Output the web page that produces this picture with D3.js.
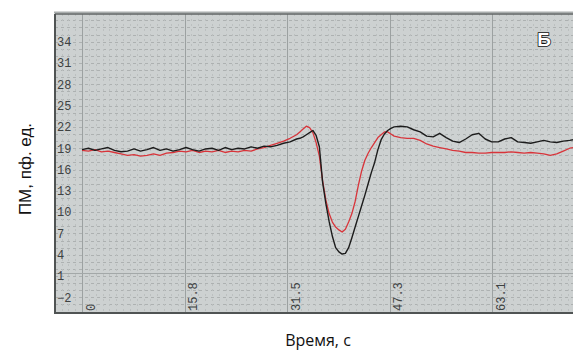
<!DOCTYPE html>
<html>
<head>
<meta charset="utf-8">
<script src="https://cdn.jsdelivr.net/npm/d3@7/dist/d3.min.js"></script>
<style>
  html, body { margin: 0; padding: 0; background: #fff; }
  svg { display: block; }
</style>
</head>
<body>
<svg id="chart" width="573" height="351"></svg>
<script>
// time, s
const times = [
  0, 1, 2, 3, 4, 5, 6, 7, 8, 9, 10, 11, 12, 13, 14, 15, 16, 17, 18, 19, 20,
  21, 22, 23, 24, 25, 26, 27, 28, 29, 30, 31, 32, 33,
  33.5, 34, 34.5, 35, 35.5, 36, 36.5, 37, 37.5, 38, 38.5, 39, 39.5, 40, 40.5,
  41, 41.5, 42, 42.5, 43, 43.5, 44, 44.5, 45, 45.5, 46, 46.5, 47, 47.5, 48,
  49, 50, 51, 52, 53, 54, 55, 56, 57, 58, 59, 60, 61, 62, 63, 64, 65, 66, 67,
  68, 69, 70, 71, 72, 73, 74, 75, 75.5
]

// black trace
const blackValues = [
  18.8, 19.0, 18.7, 18.9, 19.1, 18.7, 18.5, 18.6, 18.9, 18.6, 18.8, 19.1, 18.7, 18.9, 18.6, 18.8, 19.1, 18.8, 18.6, 18.9, 19.0,
  18.7, 19.1, 18.8, 19.0, 18.9, 19.2, 19.0, 19.3, 19.2, 19.4, 19.7, 19.9, 20.3,
  20.4, 20.6, 20.9, 21.2, 21.5, 20.8, 19.2, 14.2, 11.2, 8.7, 6.6, 5.0, 4.4, 4.1, 4.2,
  5.0, 6.4, 7.9, 9.4, 10.9, 12.4, 14.0, 15.6, 17.0, 18.8, 20.2, 21.0, 21.5, 21.8, 22.0,
  22.1, 22.0, 21.6, 21.3, 20.7, 20.6, 21.1, 20.5, 20.0, 19.8, 20.3, 20.9, 21.1, 20.3, 19.9, 19.9, 20.3, 20.5, 19.9,
  19.8, 19.7, 19.9, 20.1, 19.9, 19.8, 20.0, 20.1, 20.2
]

// red trace
const redValues = [
  18.7, 18.6, 18.8, 18.5, 18.6, 18.4, 18.2, 18.0, 18.1, 17.9, 18.0, 18.2, 18.0, 18.3, 18.4, 18.6, 18.5, 18.7, 18.4, 18.6, 18.5,
  18.7, 18.4, 18.6, 18.5, 18.7, 18.6, 18.9, 19.1, 19.4, 19.7, 20.0, 20.4, 20.9,
  21.3, 21.7, 22.1, 21.9, 21.2, 19.8, 17.9, 14.4, 11.7, 9.8, 8.6, 7.9, 7.5, 7.2, 7.6,
  8.6, 9.8, 11.5, 13.8, 15.8, 17.3, 18.3, 19.1, 19.8, 20.5, 20.9, 21.3, 21.3, 21.0, 20.7,
  20.5, 20.4, 20.4, 20.1, 19.6, 19.3, 19.1, 18.9, 18.7, 18.6, 18.4, 18.4, 18.3, 18.3, 18.4, 18.4, 18.4, 18.5, 18.4,
  18.3, 18.4, 18.3, 18.2, 18.0, 18.2, 18.6, 19.0, 19.1
]

const yTicks = [34, 31, 28, 25, 22, 19, 16, 13, 10, 7, 4, 1, -2]
const xTicks = [0, 15.8, 31.5, 47.3, 63.1]
const xTickLabels = ['0', '15.8', '31.5', '47.3', '63.1']
const hLevels = [1.5]

const plot = { left: 55, top: 14, right: 573, bottom: 313 }

const svg = d3.select('#chart')

const x = d3.scaleLinear().domain([-4.15, 75.5]).range([plot.left, plot.right])
const y = d3.scaleLinear().domain([-4.2, 37.9]).range([plot.bottom, plot.top])

// plot background
svg.append('rect')
  .attr('x', plot.left).attr('y', plot.top)
  .attr('width', plot.right - plot.left).attr('height', plot.bottom - plot.top)
  .attr('fill', '#cdd1d1')

const clip = svg.append('defs').append('clipPath').attr('id', 'plot-clip')
clip.append('rect')
  .attr('x', plot.left).attr('y', plot.top)
  .attr('width', plot.right - plot.left).attr('height', plot.bottom - plot.top)

const g = svg.append('g').attr('clip-path', 'url(#plot-clip)')

// dotted minor grid
const minorY = d3.range(-4, 38, 1)
const minorX = d3.range(-3.15, 76, 63.1 / 60)

g.append('g')
  .selectAll('line')
  .data(minorY)
  .join('line')
  .attr('x1', plot.left).attr('x2', plot.right)
  .attr('y1', d => Math.round(y(d)) + 0.5).attr('y2', d => Math.round(y(d)) + 0.5)
  .attr('stroke', '#adb1b1')
  .attr('stroke-width', 1)
  .attr('stroke-dasharray', '3,3')

g.append('g')
  .selectAll('line')
  .data(minorX)
  .join('line')
  .attr('y1', plot.top).attr('y2', plot.bottom)
  .attr('x1', d => Math.round(x(d)) + 0.5).attr('x2', d => Math.round(x(d)) + 0.5)
  .attr('stroke', '#bcc0c0')
  .attr('stroke-width', 1)
  .attr('stroke-dasharray', '2,3')

// major grid
g.append('g')
  .selectAll('line')
  .data(xTicks)
  .join('line')
  .attr('y1', plot.top).attr('y2', plot.bottom)
  .attr('x1', d => Math.round(x(d)) + 0.5).attr('x2', d => Math.round(x(d)) + 0.5)
  .attr('stroke', '#9ca1a1')
  .attr('stroke-width', 1)

g.append('g')
  .selectAll('line')
  .data(hLevels)
  .join('line')
  .attr('x1', plot.left).attr('x2', plot.right)
  .attr('y1', d => Math.round(y(d)) + 0.5).attr('y2', d => Math.round(y(d)) + 0.5)
  .attr('stroke', '#a3a8a8')
  .attr('stroke-width', 1)

// traces
const line = d3.line()
  .x(d => x(d[0]))
  .y(d => y(d[1]))

g.append('path')
  .datum(times.map((t, i) => [t, redValues[i]]))
  .attr('d', line)
  .attr('fill', 'none')
  .attr('stroke', '#d8343a')
  .attr('stroke-width', 1.3)
  .attr('stroke-linejoin', 'round')

g.append('path')
  .datum(times.map((t, i) => [t, blackValues[i]]))
  .attr('d', line)
  .attr('fill', 'none')
  .attr('stroke', '#1c1c1c')
  .attr('stroke-width', 1.4)
  .attr('stroke-linejoin', 'round')

// y axis labels, inside the frame
const yAxis = svg.append('g')
  .attr('transform', `translate(${plot.left},0)`)
  .call(d3.axisRight(y).tickValues(yTicks).tickSize(0).tickPadding(2).tickFormat(d3.format('d')))
yAxis.select('.domain').remove()
yAxis.selectAll('text')
  .attr('font-family', '"Liberation Mono", "DejaVu Sans Mono", monospace')
  .attr('font-size', 12)
  .attr('fill', '#3e4242')

// x axis labels, rotated and standing on the bottom edge
const xAxis = svg.append('g')
  .attr('transform', `translate(0,${plot.bottom})`)
  .call(d3.axisTop(x).tickValues(xTicks).tickSize(0).tickFormat((d, i) => xTickLabels[i]))
xAxis.select('.domain').remove()
xAxis.selectAll('text')
  .attr('transform', 'rotate(-90)')
  .attr('text-anchor', 'start')
  .attr('x', 2)
  .attr('y', 8)
  .attr('dy', '0.35em')
  .attr('font-family', '"Liberation Mono", "DejaVu Sans Mono", monospace')
  .attr('font-size', 12)
  .attr('fill', '#3e4242')

// frame
svg.append('line')
  .attr('x1', plot.left - 1).attr('x2', plot.right)
  .attr('y1', plot.top - 1.5).attr('y2', plot.top - 1.5)
  .attr('stroke', '#a9adad').attr('stroke-width', 2)
svg.append('line')
  .attr('x1', plot.left).attr('x2', plot.right)
  .attr('y1', plot.top).attr('y2', plot.top)
  .attr('stroke', '#5f6363').attr('stroke-width', 1.5)
svg.append('line')
  .attr('x1', plot.left).attr('x2', plot.left)
  .attr('y1', plot.top).attr('y2', plot.bottom + 1)
  .attr('stroke', '#505454').attr('stroke-width', 2)
svg.append('line')
  .attr('x1', plot.left).attr('x2', plot.right)
  .attr('y1', plot.bottom).attr('y2', plot.bottom)
  .attr('stroke', '#505454').attr('stroke-width', 2)

// panel letter
svg.append('text')
  .attr('x', 544).attr('y', 46)
  .attr('text-anchor', 'middle')
  .attr('font-family', '"Liberation Sans", Arial, sans-serif')
  .attr('font-weight', 700)
  .attr('font-size', 19)
  .attr('fill', '#ffffff')
  .attr('stroke', '#111')
  .attr('stroke-width', 1.6)
  .attr('paint-order', 'stroke')
  .text('Б')

// axis titles
svg.append('text')
  .attr('transform', 'translate(31,169) rotate(-90)')
  .attr('text-anchor', 'middle')
  .attr('font-family', '"Liberation Sans", Arial, sans-serif')
  .attr('font-size', 17)
  .attr('fill', '#111')
  .text('ПМ, пф. ед.')

svg.append('text')
  .attr('x', 318).attr('y', 346)
  .attr('text-anchor', 'middle')
  .attr('font-family', '"Open Sans", sans-serif')
  .attr('font-size', 16)
  .attr('fill', '#111')
  .text('Время, с')
</script>
</body>
</html>
